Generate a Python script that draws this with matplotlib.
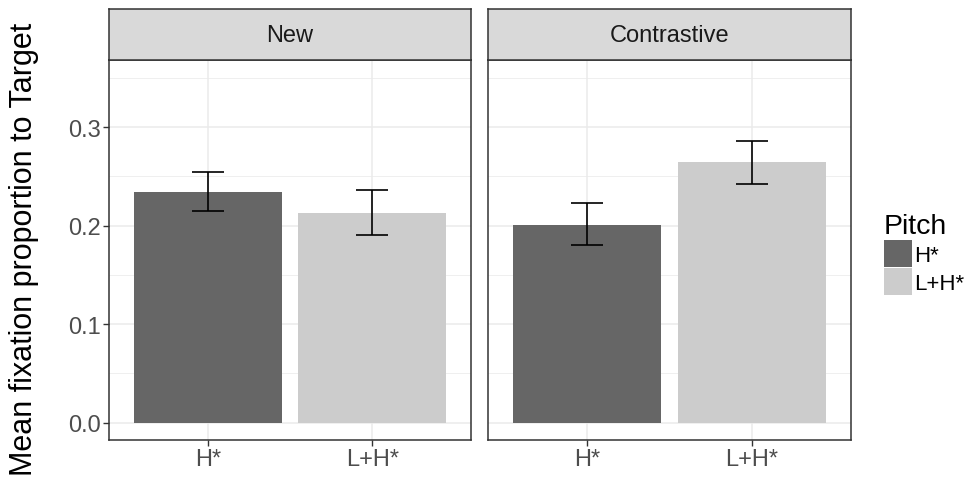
import matplotlib
matplotlib.use("Agg")
import matplotlib.pyplot as plt
from matplotlib.patches import Patch
import numpy as np

plt.rcParams['font.family'] = ['Liberation Sans', 'DejaVu Sans']

# data
panels = ["New", "Contrastive"]
pitch = ["H*", "L+H*"]
means = {"New": [0.234, 0.213], "Contrastive": [0.201, 0.264]}
lower = {"New": [0.2145, 0.190], "Contrastive": [0.180, 0.242]}
upper = {"New": [0.2545, 0.236], "Contrastive": [0.223, 0.286]}
yticks = [0.0, 0.1, 0.2, 0.3]
fill = ["#666666", "#CCCCCC"]

W, H = 970, 485
fig = plt.figure(figsize=(W / 100, H / 100), dpi=100)

def fx(px):
    return px / W

def fy(py):
    return 1 - py / H

panel_x = [(109, 471), (488, 851)]
top, bottom, strip_top = 61, 441, 10

for i, name in enumerate(panels):
    x0, x1 = panel_x[i]
    ax = fig.add_axes([fx(x0), fy(bottom), fx(x1 - x0), fy(top) - fy(bottom)])
    x = np.arange(1, len(pitch) + 1)
    ax.bar(x, means[name], width=0.9, color=fill, zorder=2)
    m = np.array(means[name])
    err = [m - np.array(lower[name]), np.array(upper[name]) - m]
    ax.errorbar(x, m, yerr=err, fmt="none", ecolor="black", elinewidth=1.2,
                capsize=11.8, capthick=1.2, zorder=3)
    ax.set_xlim(0.4, 2.6)
    ax.set_ylim(-0.0176, 0.368)
    ax.set_xticks(x)
    ax.set_xticklabels(pitch)
    ax.set_yticks(yticks)
    ax.set_yticks([0.05, 0.15, 0.25, 0.35], minor=True)
    ax.grid(True, which="major", color="#EBEBEB", linewidth=1.1, zorder=0)
    ax.grid(True, which="minor", axis="y", color="#EBEBEB", linewidth=0.55, zorder=0)
    ax.set_axisbelow(True)
    ax.tick_params(axis="both", which="major", colors="#333333", length=4, width=1,
                   labelsize=17, labelcolor="#4D4D4D", pad=2)
    ax.tick_params(axis="both", which="minor", length=0)
    if i == 0:
        ax.set_yticklabels([f"{t:.1f}" for t in yticks])
    else:
        ax.tick_params(axis="y", which="major", left=False, labelleft=False)
    for s in ax.spines.values():
        s.set_color("#333333")
        s.set_linewidth(1.1)

    sax = fig.add_axes([fx(x0), fy(top), fx(x1 - x0), fy(strip_top) - fy(top)])
    sax.set_facecolor("#D9D9D9")
    sax.set_xticks([])
    sax.set_yticks([])
    for s in sax.spines.values():
        s.set_color("#333333")
        s.set_linewidth(1.1)
    sax.text(0.5, 0.5, name, ha="center", va="center", fontsize=17,
             color="#1A1A1A", transform=sax.transAxes)

fig.text(fx(24.5), fy(249.5), "Mean fixation proportion to Target",
         rotation=90, ha="center", va="center", fontsize=22)

handles = [Patch(facecolor=c, edgecolor="none") for c in fill]
leg = fig.legend(handles, pitch, title="Pitch", loc="upper left",
                 bbox_to_anchor=(fx(866), fy(196)), frameon=False,
                 fontsize=16, title_fontsize=20.5, handlelength=1.25,
                 handleheight=1.5, handletextpad=0.12, labelspacing=0.05,
                 borderpad=0.3, alignment="left")

fig.savefig("out.png", dpi=100)
